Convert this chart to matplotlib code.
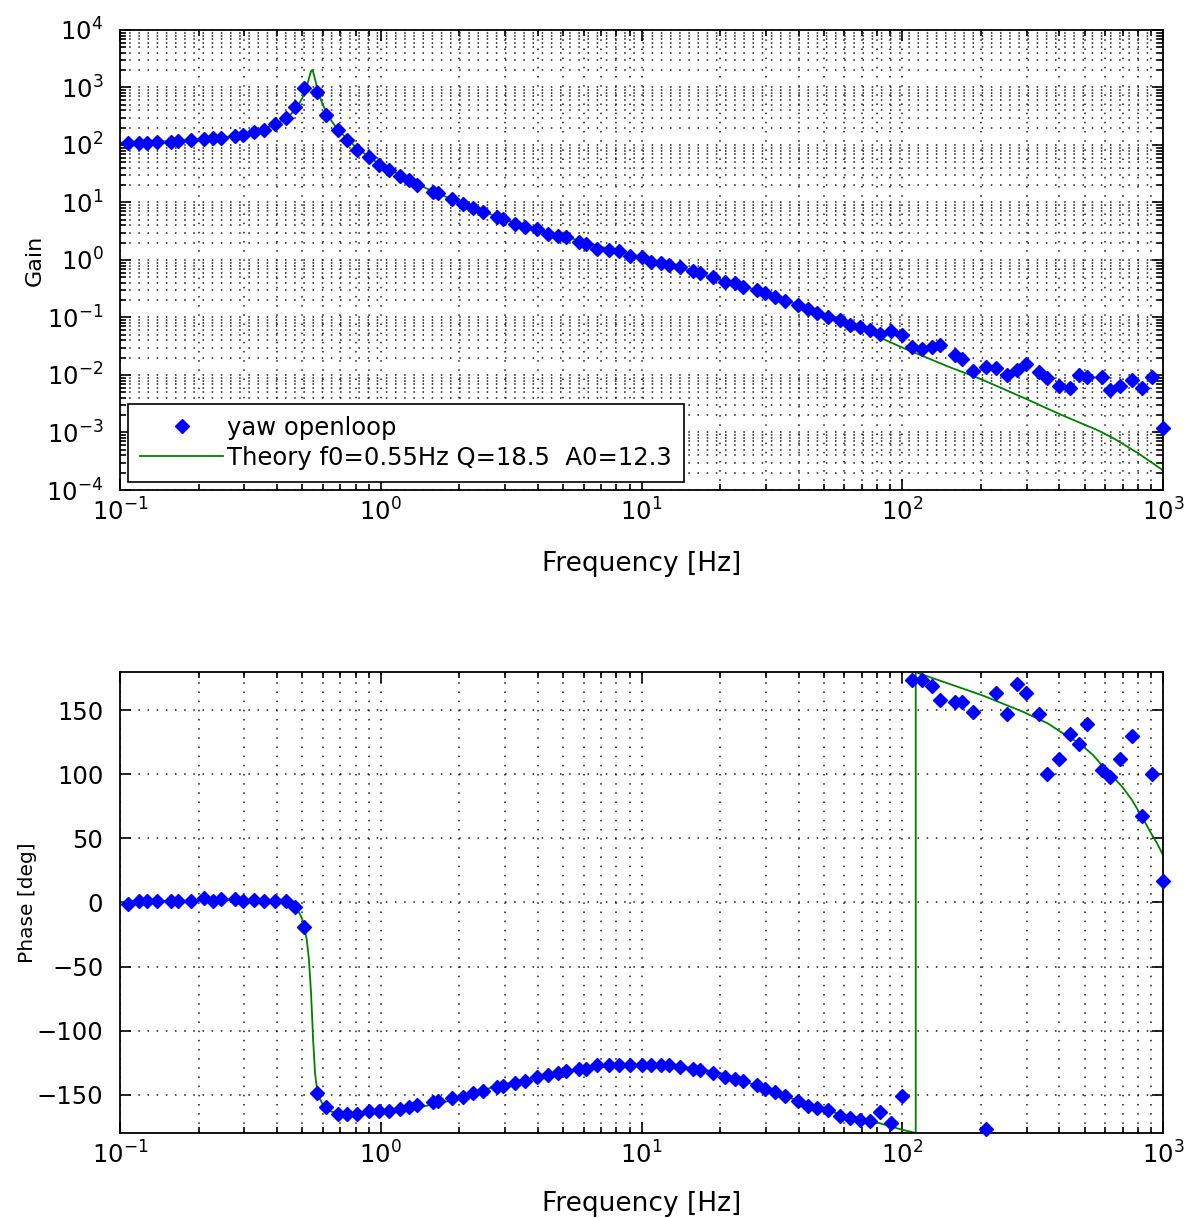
import numpy as np
import matplotlib.pyplot as plt
from matplotlib.ticker import LogLocator, NullFormatter, FixedLocator

freq = [0.1076, 0.118, 0.1265, 0.138, 0.157, 0.1675, 0.187, 0.209, 0.227, 0.244,
        0.276, 0.297, 0.325, 0.355, 0.393, 0.432, 0.469, 0.509, 0.568, 0.615,
        0.684, 0.745, 0.813, 0.902, 0.987, 1.078, 1.185, 1.286, 1.380, 1.59,
        1.66, 1.87, 2.07,
        2.26, 2.47, 2.78, 2.95, 3.27, 3.57, 3.98, 4.39, 4.80, 5.13,
        5.77, 6.12, 6.73, 7.52, 8.22, 9.03, 10.0, 10.9, 11.9, 12.8,
        14.0, 15.8, 16.8, 18.8, 20.9, 22.8, 24.6, 27.7, 29.8, 32.5,
        35.5, 39.9, 43.6, 47.2,
        52.0, 57.7, 63.0, 68.9, 75.2, 82.2, 90.6, 99.5,
        108.7, 118.8, 129.8, 139.6, 159.3, 169, 187, 209, 228, 252,
        276, 298, 333, 360, 400, 440, 477, 513, 583, 626,
        684, 759, 828, 906, 1000]
gain = [108, 109, 110, 111, 114, 118, 122, 126, 131, 133,
        144, 149, 166, 182, 232, 291, 463, 968, 826, 332,
        182, 122, 81.8, 62.6, 44.9, 36.7, 28.9, 24.6, 20.1, 15.4,
        14.5, 11.4, 9.4,
        7.9, 6.9, 5.6, 5.1, 4.23, 3.80, 3.42, 2.83, 2.61, 2.48,
        2.08, 1.87, 1.56, 1.50, 1.42, 1.17, 1.11, 0.934, 0.877, 0.818,
        0.746, 0.652, 0.601, 0.500, 0.420, 0.394, 0.344, 0.301, 0.270, 0.230,
        0.196, 0.165, 0.139, 0.118,
        0.104, 0.091, 0.0746, 0.069, 0.0607, 0.0518, 0.059, 0.0498,
        0.0306, 0.0286, 0.0306, 0.0336, 0.0226, 0.0193, 0.0117, 0.0139, 0.0130, 0.0100,
        0.0122, 0.0158, 0.0111, 0.00877, 0.00633, 0.00592, 0.0100, 0.0094, 0.0094, 0.00541,
        0.00648, 0.0082, 0.00592, 0.0094, 0.00119]
phase = [-1.0, 1.0, 1.0, 1.0, 1.0, 1.0, 1.0, 3.6, 1.5, 2.9,
         2.9, 1.5, 2.1, 1.0, 1.0, 1.0, -3.6, -19.3, -149, -160,
         -165, -165, -165, -163, -163, -163, -161, -160, -158, -156,
         -155, -153, -152,
         -149, -147.4, -144.3, -143, -141.2, -139.6, -136.5, -134.9, -133.4, -131.8,
         -129.9, -129.9, -127.3, -126.8, -126.8, -126.8, -126.8, -126.8, -126.8, -126.8,
         -128.7, -129.9, -130.7, -133.4, -136.5, -137.7, -139.6, -142.2, -145.5, -148.2,
         -150.8, -155.2, -158.6, -160.4,
         -162, -166.4, -168.2, -169.8, -170.9, -163.8, -172.4, -150.8,
         173.4, 173.4, 168.8, 157.8, 156.5, 156.5, 148.7, -176.8, 163.8, 146.9,
         170.3, 163.8, 146.9, 100, 112.3, 131.3, 124, 139, 103.1, 97.9,
         112.3, 129.7, 67.2, 100, 16.6]

# theory curve (f0=0.55Hz Q=18.5 A0=12.3)
th_freq_g = [0.1, 0.15, 0.2, 0.25, 0.3, 0.35, 0.4, 0.45, 0.48, 0.50,
             0.52, 0.53, 0.54, 0.545, 0.55, 0.56, 0.57, 0.58, 0.60, 0.65,
             0.7, 0.8, 0.9, 1.0, 1.2, 1.5, 2.0, 3.0, 4.0, 5.0,
             7.0, 10, 15, 20, 30, 44, 70, 100, 150, 200,
             300, 400, 560, 650, 800, 1000]
th_gain = [110, 116, 124, 136, 152, 184, 234, 336, 472, 652,
           1045, 1430, 1908, 2000, 1875, 1372, 985, 748, 491, 252,
           166, 93, 62, 45, 29, 17.5, 10, 5.0, 3.4, 2.6,
           1.7, 1.1, 0.66, 0.45, 0.27, 0.14, 0.062, 0.030, 0.014, 0.0085,
           0.0038, 0.0021, 0.0011, 7.8e-4, 4.4e-4, 2.2e-4]
th_freq_p = [0.1, 0.2, 0.3, 0.4, 0.45, 0.47, 0.49, 0.50, 0.51, 0.52,
             0.53, 0.54, 0.545, 0.55, 0.56, 0.57, 0.58, 0.60, 0.63, 0.69,
             0.8, 1.0, 1.4, 2.07, 2.7, 3.9, 6.5, 10, 15.8, 20,
             28.5, 40, 51, 65, 79.5, 100, 112.6, 112.6, 117, 150,
             203, 292, 360, 425, 480, 540, 600, 650, 700, 760,
             830, 900, 950, 1000]
th_phase = [0.5, 1.5, 2, 1.5, -1, -4, -9, -13, -20, -29,
            -44, -70, -88, -107, -134, -146, -152, -158, -162.5, -165,
            -165.5, -164, -160, -152.6, -144, -136.5, -129, -126.6, -129, -133,
            -144, -155, -162.5, -167.5, -171.6, -177.5, -180, 180, 178.6, 171,
            161.7, 148.7, 140, 130.5, 124, 115, 104, 97, 90, 80,
            67, 54, 46, 37]

blue = '#0000ff'
green = '#008000'
grid_style = dict(color='0.1', linestyle=(0, (1, 5)), linewidth=1.1)

fig = plt.figure(figsize=(11.92, 12.18), dpi=100)
ax1 = fig.add_axes([0.1007, 0.5977, 0.875, 0.3777])
ax2 = fig.add_axes([0.1007, 0.0698, 0.875, 0.3785])

# --- gain ---
ax1.loglog(freq, gain, 'D', color=blue, markersize=7, label='yaw openloop', clip_on=False, zorder=3)
ax1.loglog(th_freq_g, th_gain, '-', color=green, linewidth=1.3,
           label='Theory f0=0.55Hz Q=18.5  A0=12.3', zorder=2)
ax1.set_xlim(0.1, 1000)
ax1.set_ylim(1e-4, 1e4)
ax1.yaxis.set_major_locator(FixedLocator([10.0**k for k in range(-4, 5)]))
ax1.yaxis.set_minor_locator(LogLocator(base=10, subs=np.arange(2, 10), numticks=30))
ax1.yaxis.set_minor_formatter(NullFormatter())
ax1.grid(True, which='major', **grid_style)
ax1.grid(True, which='minor', **grid_style)
ax1.set_xlabel('Frequency [Hz]', fontsize=19)
ax1.set_ylabel('Gain', fontsize=16)
ax1.xaxis.set_label_coords(0.5, -0.133)
ax1.yaxis.set_label_coords(-0.072, 0.5)
leg = ax1.legend(loc='lower left', fontsize=17.5, handlelength=3.4, handletextpad=0.16,
                 borderaxespad=0.33, fancybox=False, framealpha=1, edgecolor='k',
                 labelspacing=0.25, borderpad=0.5)
leg.get_frame().set_linewidth(1.2)

# --- phase ---
ax2.semilogx(freq, phase, 'D', color=blue, markersize=7, clip_on=False, zorder=3)
ax2.semilogx(th_freq_p, th_phase, '-', color=green, linewidth=1.3, zorder=2)
ax2.set_xlim(0.1, 1000)
ax2.set_ylim(-180, 180)
ax2.set_yticks([-150, -100, -50, 0, 50, 100, 150])
ax2.grid(True, which='major', **grid_style)
ax2.grid(True, which='minor', axis='x', **grid_style)
ax2.set_xlabel('Frequency [Hz]', fontsize=19)
ax2.set_ylabel('Phase [deg]', fontsize=14.5)
ax2.xaxis.set_label_coords(0.5, -0.126)
ax2.yaxis.set_label_coords(-0.08, 0.5)

for ax in (ax1, ax2):
    ax.xaxis.set_major_locator(FixedLocator([0.1, 1, 10, 100, 1000]))
    ax.xaxis.set_minor_locator(LogLocator(base=10, subs=np.arange(2, 10), numticks=30))
    ax.xaxis.set_minor_formatter(NullFormatter())
    ax.tick_params(which='both', direction='in', top=True, right=True, labelsize=17.5, width=1.2)
    ax.tick_params(which='major', length=8)
    ax.tick_params(which='minor', length=4)
    ax.tick_params(axis='x', which='major', pad=6)
    ax.tick_params(axis='y', which='major', pad=12)
    for sp in ax.spines.values():
        sp.set_linewidth(1.3)

fig.savefig('out.png', dpi=100)
